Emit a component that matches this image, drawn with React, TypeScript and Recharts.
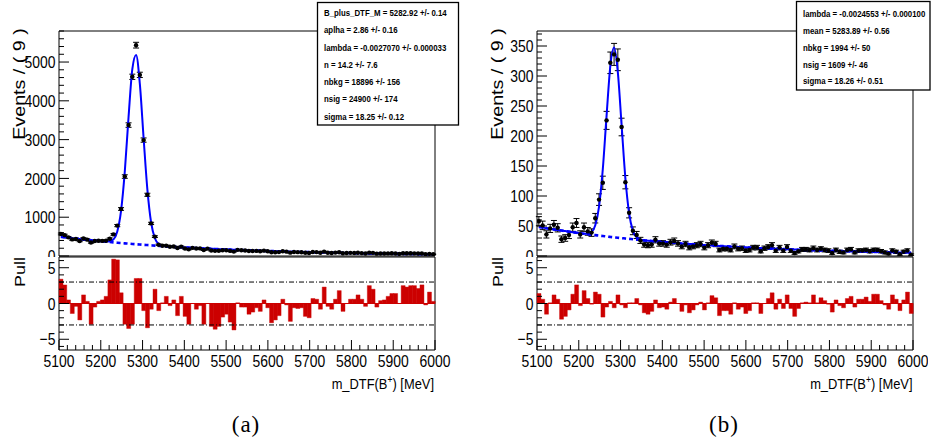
import React from 'react';
import {
  ComposedChart,
  Scatter,
  Line,
  Bar,
  XAxis,
  YAxis,
  ErrorBar,
  ReferenceLine,
  ReferenceArea,
} from 'recharts';

const FONT = "'Liberation Sans', Arial, Helvetica, sans-serif";
const BLUE = '#0000ff';
const RED = '#cc0000';

// m_DTF(B+) binning: 100 bins of 9 MeV
const M_LO = 5100;
const M_HI = 6000;
const BIN = 9;

// ---- (a) ----
const countsA = [
  568, 538, 481, 428, 439, 388, 451, 422, 348, 386,
  392, 389, 393, 444, 557, 784, 1212, 2048, 3375, 4619,
  5435, 4669, 2988, 1578, 840, 500, 291, 266, 265, 238,
  245, 206, 241, 194, 172, 210, 194, 196, 154, 191,
  142, 133, 134, 148, 150, 132, 114, 158, 147, 143,
  128, 128, 132, 123, 138, 122, 96, 97, 101, 123,
  112, 86, 103, 99, 98, 83, 79, 103, 100, 84,
  112, 83, 78, 88, 97, 69, 77, 81, 79, 82,
  75, 65, 87, 81, 60, 65, 65, 67, 69, 66,
  55, 72, 69, 69, 68, 64, 66, 45, 56, 46,
];
const fitA = [
  493, 481, 470, 458, 447, 436, 426, 416, 406, 396,
  386, 379, 374, 380, 429, 631, 1161, 2183, 3585, 4820,
  5183, 4436, 3043, 1719, 863, 457, 309, 264, 249, 243,
  237, 232, 226, 221, 215, 210, 205, 200, 195, 191,
  186, 182, 177, 173, 169, 165, 161, 157, 153, 149,
  146, 142, 139, 136, 132, 129, 126, 123, 120, 117,
  114, 112, 109, 106, 104, 101, 99, 96, 94, 92,
  90, 87, 85, 83, 81, 79, 77, 76, 74, 72,
  70, 68, 67, 65, 64, 62, 61, 59, 58, 56,
  55, 54, 52, 51, 50, 49, 48, 46, 45, 44,
];
const bkgA = [
  493, 481, 470, 458, 447, 436, 426, 416, 406, 396,
  386, 377, 368, 359, 351, 342, 334, 326, 318, 310,
  303, 296, 288, 282, 275, 268, 262, 255, 249, 243,
  237, 232, 226, 221, 215, 210, 205, 200, 195, 191,
  186, 182, 177, 173, 169, 165, 161, 157, 153, 149,
  146, 142, 139, 136, 132, 129, 126, 123, 120, 117,
  114, 112, 109, 106, 104, 101, 99, 96, 94, 92,
  90, 87, 85, 83, 81, 79, 77, 76, 74, 72,
  70, 68, 67, 65, 64, 62, 61, 59, 58, 56,
  55, 54, 52, 51, 50, 49, 48, 46, 45, 44,
];
const pullA = [
  3.4, 2.6, 0.5, -1.4, -0.4, -2.3, 1.2, 0.3, -2.9, -0.5,
  0.3, 0.5, 1.0, 3.3, 6.2, 6.1, 1.5, -2.9, -3.5, -2.9,
  3.5, 3.5, -1.0, -3.4, -0.8, 2.0, -1.0, 0.1, 1.0, -0.3,
  0.5, -1.7, 1.0, -1.8, -2.9, 0.0, -0.8, -0.3, -2.9, 0.0,
  -3.2, -3.6, -3.2, -1.9, -1.5, -2.6, -3.7, 0.1, -0.5, -0.5,
  -1.5, -1.2, -0.6, -1.1, 0.5, -0.6, -2.7, -2.3, -1.7, 0.6,
  -0.2, -2.5, -0.6, -0.7, -0.6, -1.8, -2.0, 0.7, 0.6, -0.8,
  2.3, -0.4, -0.8, 0.6, 1.8, -1.1, 0.0, 0.6, 0.6, 1.2,
  0.6, -0.4, 2.5, 2.0, -0.5, 0.4, 0.5, 1.0, 1.4, 1.4,
  0.0, 2.5, 2.3, 2.5, 2.5, 2.1, 2.6, -0.2, 1.6, 0.3,
];

// ---- (b) ----
const countsB = [
  58, 51, 36, 46, 52, 47, 28, 30, 35, 48,
  55, 36, 48, 41, 39, 63, 94, 122, 226, 322,
  336, 327, 215, 123, 72, 42, 35, 26, 19, 18,
  19, 27, 21, 21, 19, 23, 25, 21, 16, 20,
  14, 16, 18, 20, 14, 18, 22, 20, 10, 12,
  12, 10, 16, 12, 13, 9, 10, 14, 14, 8,
  13, 15, 18, 9, 14, 9, 15, 9, 5, 8,
  11, 11, 10, 13, 10, 12, 10, 9, 5, 10,
  7, 6, 10, 11, 6, 9, 9, 10, 8, 10,
  10, 8, 6, 4, 9, 7, 3, 7, 9, 2,
];
const fitB = [
  48.4, 47.4, 46.3, 45.3, 44.3, 43.4, 42.4, 41.5, 40.6, 39.7,
  38.8, 38.0, 37.1, 37.2, 39.9, 51.3, 82.4, 144.7, 233.5, 316.6,
  347.3, 305.9, 218.1, 130.0, 70.9, 41.9, 30.9, 27.4, 26.1, 25.5,
  25.0, 24.4, 23.9, 23.4, 22.8, 22.3, 21.9, 21.4, 20.9, 20.5,
  20.0, 19.6, 19.1, 18.7, 18.3, 17.9, 17.5, 17.1, 16.8, 16.4,
  16.0, 15.7, 15.4, 15.0, 14.7, 14.4, 14.1, 13.7, 13.4, 13.2,
  12.9, 12.6, 12.3, 12.0, 11.8, 11.5, 11.3, 11.0, 10.8, 10.5,
  10.3, 10.1, 9.9, 9.7, 9.4, 9.2, 9.0, 8.8, 8.6, 8.5,
  8.3, 8.1, 7.9, 7.7, 7.6, 7.4, 7.2, 7.1, 6.9, 6.8,
  6.6, 6.5, 6.3, 6.2, 6.1, 5.9, 5.8, 5.7, 5.6, 5.4,
];
const bkgB = [
  48.4, 47.4, 46.3, 45.3, 44.3, 43.4, 42.4, 41.5, 40.6, 39.7,
  38.8, 38.0, 37.1, 36.3, 35.5, 34.8, 34.0, 33.3, 32.5, 31.8,
  31.1, 30.4, 29.8, 29.1, 28.5, 27.9, 27.3, 26.7, 26.1, 25.5,
  25.0, 24.4, 23.9, 23.4, 22.8, 22.3, 21.9, 21.4, 20.9, 20.5,
  20.0, 19.6, 19.1, 18.7, 18.3, 17.9, 17.5, 17.1, 16.8, 16.4,
  16.0, 15.7, 15.4, 15.0, 14.7, 14.4, 14.1, 13.7, 13.4, 13.2,
  12.9, 12.6, 12.3, 12.0, 11.8, 11.5, 11.3, 11.0, 10.8, 10.5,
  10.3, 10.1, 9.9, 9.7, 9.4, 9.2, 9.0, 8.8, 8.6, 8.5,
  8.3, 8.1, 7.9, 7.7, 7.6, 7.4, 7.2, 7.1, 6.9, 6.8,
  6.6, 6.5, 6.3, 6.2, 6.1, 5.9, 5.8, 5.7, 5.6, 5.4,
];
const pullB = [
  1.4, 0.6, -1.5, 0.1, 1.2, 0.6, -2.2, -1.8, -0.9, 1.3,
  2.6, -0.3, 1.8, 0.7, -0.1, 1.6, 1.3, -1.9, -0.5, 0.3,
  -0.6, 1.2, -0.2, -0.6, 0.1, 0.1, 0.7, -0.2, -1.3, -1.5,
  -1.1, 0.5, -0.6, -0.5, -0.8, 0.2, 0.7, 0.0, -1.1, -0.2,
  -1.3, -0.9, -0.2, 0.2, -0.9, 0.1, 1.1, 0.8, -1.7, -1.0,
  -1.0, -1.5, 0.1, -0.8, -0.5, -1.4, -1.0, 0.1, 0.1, -1.4,
  0.0, 0.7, 1.5, -0.8, 0.6, -0.7, 1.2, -0.7, -1.8, -0.7,
  0.1, 0.2, 0.1, 1.2, 0.1, 0.8, 0.4, -0.1, -1.2, 0.5,
  -0.3, -0.6, 0.7, 1.0, -0.5, 0.6, 0.6, 0.9, 0.3, 1.3,
  1.3, 0.4, -0.2, -0.8, 1.2, 0.6, -1.0, 0.5, 1.6, -1.4,
];

const statsA = [
  'B_plus_DTF_M = 5282.92 +/- 0.14',
  'aplha = 2.86 +/- 0.16',
  'lambda = -0.0027070 +/- 0.000033',
  'n = 14.2 +/- 7.6',
  'nbkg = 18896 +/- 156',
  'nsig = 24900 +/- 174',
  'sigma = 18.25 +/- 0.12',
];
const statsB = [
  'lambda = -0.0024553 +/- 0.000100',
  'mean = 5283.89 +/- 0.56',
  'nbkg = 1994 +/- 50',
  'nsig = 1609 +/- 46',
  'sigma = 18.26 +/- 0.51',
];

const massTicks = Array.from({ length: 46 }, (_, i) => M_LO + 20 * i);
const yTicksA = Array.from({ length: 30 }, (_, i) => 200 * i);
const yTicksB = Array.from({ length: 38 }, (_, i) => 10 * i);
const pullTicks = [-6, -5, -4, -3, -2, -1, 0, 1, 2, 3, 4, 5, 6];

const buildRows = (counts: number[], fit: number[], bkg: number[], pull: number[]) =>
  counts.map((n, i) => ({
    m: M_LO + BIN * (i + 0.5),
    n,
    err: Math.sqrt(n),
    xerr: BIN / 2,
    fit: fit[i],
    bkg: bkg[i],
    pull: pull[i],
  }));

const rowsA = buildRows(countsA, fitA, bkgA, pullA);
const rowsB = buildRows(countsB, fitB, bkgB, pullB);

// layout
const AXIS_W = 59;
const PLOT_W = 376;
const MAIN_H = 257;
const MAIN_TOP = 31;
const MAIN_BOTTOM = 256;
const PULL_Y = 256;
const PULL_H = 191;
const PULL_TOP = 1;
const PULL_BOTTOM = 94;

const fmt = (v: number) => (v < 0 ? `\u2212${-v}` : `${v}`);

const yTick = (major: number) => (props: any) => {
  const { y, payload } = props;
  const v = payload.value as number;
  const isMajor = v % major === 0;
  return (
    <g>
      <line x1={AXIS_W} x2={AXIS_W + (isMajor ? 10 : 5)} y1={y} y2={y} stroke="#000" />
      {isMajor && (
        <text
          transform={`translate(${AXIS_W - 3.5},${y}) scale(0.82,1)`}
          textAnchor="end"
          dy="0.36em"
          fontSize={17}
          fontFamily={FONT}
          fill="#000"
        >
          {fmt(v)}
        </text>
      )}
    </g>
  );
};

const xTick = (bottom: number, labelled: boolean) => (props: any) => {
  const { x, payload } = props;
  const v = payload.value as number;
  const isMajor = v % 100 === 0;
  return (
    <g>
      <line x1={x} x2={x} y1={bottom} y2={bottom - (isMajor ? 10 : 5)} stroke="#000" />
      {labelled && isMajor && (
        <text
          transform={`translate(${x},${bottom + 16.5}) scale(0.82,1)`}
          textAnchor="middle"
          fontSize={17}
          fontFamily={FONT}
          fill="#000"
        >
          {v}
        </text>
      )}
    </g>
  );
};

const DataDot = (props: any) => <circle cx={props.cx} cy={props.cy} r={2.2} fill="#000" />;

type PanelProps = {
  left: number;
  width: number;
  rows: ReturnType<typeof buildRows>;
  yMax: number;
  yTicks: number[];
  yMajor: number;
};

const Panel = ({ left, width, rows, yMax, yTicks, yMajor }: PanelProps) => {
  const right = width - AXIS_W - PLOT_W;
  return (
    <>
      <div style={{ position: 'absolute', left, top: 0, width, height: MAIN_H, overflow: 'hidden' }}>
        <ComposedChart
          width={width}
          height={MAIN_H}
          data={rows}
          margin={{ top: MAIN_TOP, right, bottom: MAIN_H - MAIN_BOTTOM, left: 0 }}
        >
          <XAxis
            dataKey="m"
            type="number"
            domain={[M_LO, M_HI]}
            ticks={massTicks}
            interval={0}
            height={0}
            axisLine={false}
            tickLine={false}
            tick={xTick(MAIN_BOTTOM, false)}
            allowDataOverflow
          />
          <YAxis
            type="number"
            domain={[0, yMax]}
            ticks={yTicks}
            interval={0}
            width={AXIS_W}
            axisLine={false}
            tickLine={false}
            tick={yTick(yMajor)}
            allowDataOverflow
          />
          <ReferenceArea x1={M_LO} x2={M_HI} y1={0} y2={yMax} fill="none" stroke="#000" ifOverflow="visible" />
          <Scatter dataKey="n" shape={DataDot} isAnimationActive={false}>
            <ErrorBar dataKey="err" direction="y" width={3} stroke="#000" strokeWidth={1} isAnimationActive={false} />
            <ErrorBar dataKey="xerr" direction="x" width={0} stroke="#000" strokeWidth={1} isAnimationActive={false} />
          </Scatter>
          <Line
            dataKey="bkg"
            type="monotone"
            stroke={BLUE}
            strokeWidth={2.6}
            strokeDasharray="4 3"
            dot={false}
            activeDot={false}
            isAnimationActive={false}
          />
          <Line
            dataKey="fit"
            type="monotone"
            stroke={BLUE}
            strokeWidth={2}
            dot={false}
            activeDot={false}
            isAnimationActive={false}
          />
        </ComposedChart>
      </div>
      <div style={{ position: 'absolute', left, top: PULL_Y, width, height: PULL_H }}>
        <ComposedChart
          width={width}
          height={PULL_H}
          data={rows}
          barCategoryGap={0}
          barGap={0}
          margin={{ top: PULL_TOP, right, bottom: PULL_H - PULL_BOTTOM - 30, left: 0 }}
        >
          <XAxis xAxisId="cat" dataKey="m" type="category" hide />
          <XAxis
            xAxisId="num"
            dataKey="m"
            type="number"
            domain={[M_LO, M_HI]}
            ticks={massTicks}
            interval={0}
            height={30}
            axisLine={false}
            tickLine={false}
            tick={xTick(PULL_BOTTOM, true)}
            allowDataOverflow
          />
          <YAxis
            type="number"
            domain={[-6.5, 6.5]}
            ticks={pullTicks}
            interval={0}
            width={AXIS_W}
            axisLine={false}
            tickLine={false}
            tick={yTick(5)}
            allowDataOverflow
          />
          <ReferenceLine xAxisId="num" y={3} stroke="#000" strokeDasharray="5 2 1 2" />
          <ReferenceLine xAxisId="num" y={-3} stroke="#000" strokeDasharray="5 2 1 2" />
          <ReferenceLine xAxisId="num" y={0} stroke={RED} />
          <Bar xAxisId="cat" dataKey="pull" fill={RED} stroke={RED} strokeWidth={0.4} isAnimationActive={false} />
          <ReferenceArea
            xAxisId="num"
            x1={M_LO}
            x2={M_HI}
            y1={-6.5}
            y2={6.5}
            fill="none"
            stroke="#000"
            ifOverflow="visible"
          />
        </ComposedChart>
      </div>
    </>
  );
};

const StatBox = ({ x, y, w, h, lines, first, step }: any) => (
  <g>
    <rect x={x} y={y} width={w} height={h} fill="#fff" stroke="#000" strokeWidth={1.3} />
    {lines.map((t: string, i: number) => (
      <text
        key={t}
        transform={`translate(${x + 6.5},${first + step * i}) scale(0.8,1)`}
        fontSize={9.8}
        fontWeight="bold"
        fontFamily={FONT}
        fill="#000"
      >
        {t}
      </text>
    ))}
  </g>
);

const AxisTitles = ({ titleX, rightX }: { titleX: number; rightX: number }) => (
  <g fontFamily={FONT} fill="#000">
    <text transform={`translate(${titleX},84) rotate(-90) scale(1,0.86)`} textAnchor="middle" fontSize={19.7}>
      Events / ( 9 )
    </text>
    <text transform={`translate(${titleX},272) rotate(-90) scale(1,0.82)`} textAnchor="middle" fontSize={18}>
      Pull
    </text>
    <text transform={`translate(${rightX},389) scale(0.86,1)`} textAnchor="end" fontSize={15}>
      m_DTF(B
      <tspan dy={-6} fontSize={10}>
        +
      </tspan>
      <tspan dy={6}>) [MeV]</tspan>
    </text>
  </g>
);

export default function App() {
  return (
    <div
      style={{
        position: 'absolute',
        left: 0,
        top: 0,
        width: 932,
        height: 447,
        overflow: 'hidden',
        background: '#fff',
      }}
    >
      <Panel left={0} width={460} rows={rowsA} yMax={5800} yTicks={yTicksA} yMajor={1000} />
      <Panel left={478} width={450} rows={rowsB} yMax={375} yTicks={yTicksB} yMajor={50} />
      <svg
        width={932}
        height={447}
        style={{ position: 'absolute', left: 0, top: 0, pointerEvents: 'none' }}
      >
        <AxisTitles titleX={25} rightX={434} />
        <AxisTitles titleX={502.5} rightX={912.5} />
        <StatBox x={317.5} y={2.5} w={141} h={122.5} lines={statsA} first={16} step={17.27} />
        <StatBox x={796.5} y={1.5} w={133.5} h={88.5} lines={statsB} first={17.3} step={16.75} />
        <g fontFamily="'Liberation Serif', 'Times New Roman', serif" fontSize={23} fill="#000" letterSpacing={1}>
          <text x={246} y={432} textAnchor="middle">
            (a)
          </text>
          <text x={724} y={432} textAnchor="middle">
            (b)
          </text>
        </g>
      </svg>
    </div>
  );
}
